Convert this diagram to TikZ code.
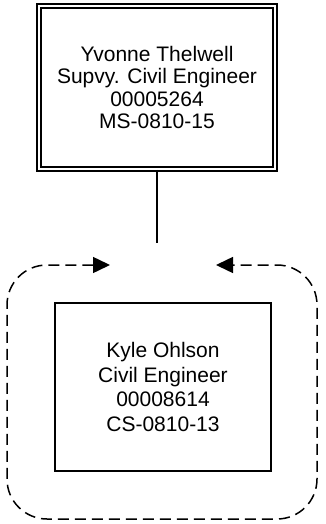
\documentclass[tikz,border=0pt]{standalone}
\usepackage{fontspec}
\setmainfont{Liberation Sans}
\usetikzlibrary{arrows.meta,positioning}

\begin{document}
\begin{tikzpicture}[x=1pt,y=-1pt,
  persbox/.style={draw,line width=1.5pt,align=center,font=\fontsize{21}{24.5}\selectfont},
  bossbox/.style={persbox,double,double distance=2.8pt,font=\fontsize{21}{22.5}\selectfont},
  loopline/.style={line width=1.5pt,dash pattern=on 11pt off 6pt,rounded corners=40pt}]
\useasboundingbox (0,0) rectangle (325,524);

\node[bossbox,minimum width=236pt,minimum height=163pt] at (157,87.5) (yvonne){Yvonne Thelwell\\Supvy. Civil Engineer\\00005264\\MS-0810-15};
\node[persbox,minimum width=216pt,minimum height=168pt] at (163,387) (kyle){Kyle Ohlson\\Civil Engineer\\00008614\\CS-0810-13};

\coordinate (looptop) at (157,243);
\coordinate (loopL) at (110,265);
\coordinate (loopR) at (216,265);

\draw[line width=1.5pt] (yvonne.south) -- (looptop);

\draw[loopline,{Triangle[length=17pt,width=16pt]}-{Triangle[length=17pt,width=16pt]}]
  (loopL) -- (7,265) -- (7,519) -- (317,519) -- (317,265) -- (loopR);

\end{tikzpicture}
\end{document}
